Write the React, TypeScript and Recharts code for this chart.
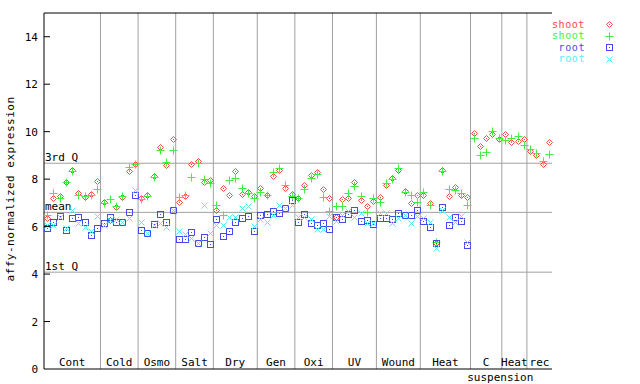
import { ComposedChart, Legend, Line, ReferenceLine, XAxis, YAxis } from "recharts";

const groups = ["Cont", "Cold", "Osmo", "Salt", "Dry", "Gen", "Oxi", "UV", "Wound", "Heat", "C", "Heat", "rec"];
const subLabels = ["", "", "", "", "", "", "", "", "", "", "suspension", "", ""];
const groupSizes = [9, 6, 6, 6, 7, 6, 6, 7, 7, 8, 5, 4, 4];

const yTicks = [0, 2, 4, 6, 8, 10, 12, 14];

const quartiles = [
  { label: "3rd Q", value: 8.67 },
  { label: "mean", value: 6.6 },
  { label: "1st Q", value: 4.08 }
];

// shoot, replicate 1 (red diamonds)
const shootA = [
  6.35, 7.19, 7.3, 7.86, 8.38, 7.4, 7.26, 7.37, 7.92,
  7.05, 6.28, 6.84, 7.26, 8.34, 8.62,
  7.19, 7.33, 8.14, 9.37, 8.59, 9.69,
  7.02, 7.29, 8.62, 8.76, 7.86, 7.95,
  6.71, 7.64, 7.33, 8.34, 7.39, 7.47, 7.3,
  7.64, 7.32, 8.13, 8.38, 7.61, 7.36,
  7.19, 7.75, 8.17, 8.31, 7.58, 7.19,
  6.42, 7.16, 7.19, 7.86, 7.1, 6.87, 7.08,
  7.26, 7.75, 8.03, 8.38, 7.5, 6.98, 7.33,
  7.33, 6.98, 5.3, 8.39, 7.29, 7.66, 7.33, 7.23,
  9.93, 9.4, 9.72, 9.89, 9.69,
  9.89, 9.58, 9.62, 9.68,
  9.19, 9.02, 8.64, 9.55
];

// shoot, replicate 2 (green plus)
const shootB = [
  6.49, 7.4, 7.22, 7.86, 8.34, 7.33, 7.3, 7.33, 7.58,
  6.98, 7.16, 6.87, 7.29, 8.5, 8.64,
  7.16, 7.27, 8.07, 9.23, 8.71, 9.23,
  7.23, 7.33, 8.1, 8.68, 8.0, 7.82,
  6.91, 6.49, 7.96, 8.03, 7.61, 7.4, 7.22,
  7.44, 7.32, 8.31, 8.45, 7.75, 7.3,
  7.19, 7.58, 8.03, 8.23, 7.25, 6.66,
  6.87, 6.87, 7.4, 7.71, 7.29, 6.6, 7.22,
  7.02, 7.85, 8.0, 8.45, 7.44, 7.32, 7.02,
  7.47, 6.91, 5.35, 8.34, 7.57, 7.54, 7.4, 6.91,
  9.72, 9.02, 9.13, 10.03, 9.72,
  9.65, 9.72, 9.82, 9.44,
  9.27, 9.12, 8.77, 9.06
];

// root, replicate 1 (blue squares) - no root samples for the suspension cultures
const rootA = [
  5.92, 6.18, 6.46, 5.85, 6.35, 6.42, 6.18, 5.64, 5.92,
  6.14, 6.42, 6.18, 6.18, 6.6, 7.32,
  5.84, 5.71, 6.09, 6.51, 6.18, 6.68,
  5.47, 5.47, 5.76, 5.3, 5.56, 5.25,
  6.3, 5.6, 5.81, 6.21, 6.35, 6.46, 5.81,
  6.49, 6.51, 6.66, 6.56, 6.77, 7.12,
  6.21, 6.51, 6.14, 6.07, 6.14, 5.9,
  6.42, 6.3, 6.51, 6.7, 6.23, 6.29, 6.12,
  6.35, 6.35, 6.3, 6.56, 6.49, 6.49, 6.72,
  6.23, 5.97, 5.3, 6.84, 6.07, 6.39, 6.24, 5.22
];

// root, replicate 2 (cyan crosses)
const rootB = [
  6.05, 6.07, 6.42, 5.92, 6.7, 6.14, 6.0, 5.81, 6.46,
  6.07, 6.28, 6.32, 6.18, 6.37, 7.53,
  6.21, 5.71, 6.07, 6.14, 6.0, 6.68,
  5.81, 5.67, 5.5, 5.3, 6.91, 5.71,
  6.07, 6.07, 6.42, 6.42, 6.77, 6.87, 6.04,
  6.3, 6.21, 6.49, 6.91, 6.77, 6.91,
  6.42, 6.42, 6.32, 5.9, 5.9, 6.46,
  6.23, 6.49, 6.66, 6.42, 6.56, 6.14, 6.14,
  6.56, 6.56, 6.14, 6.37, 6.49, 6.14, 6.46,
  6.35, 6.18, 5.11, 6.7, 6.39, 6.21, 6.45, 5.37
];

const RED = "#ff4848";
const GREEN = "#40f040";
const BLUE = "#4848f0";
const CYAN = "#50f0f0";
const GRID = "#a0a0a0";
const FONT = "DejaVu Sans Mono";

const rows = shootA.map((v, i) => ({
  idx: i + 1,
  shootA: v,
  shootB: shootB[i],
  rootA: rootA[i] ?? null,
  rootB: rootB[i] ?? null
}));

const boundaries: number[] = [];
const centers: number[] = [];
let start = 0.5;
groupSizes.forEach((n, i) => {
  centers.push(start + n / 2);
  start += n;
  if (i < groupSizes.length - 1) boundaries.push(start);
});

// snap marker centres to the pixel grid so 1px strokes stay sharp
function drawShape(kind: string, color: string, px: number, py: number, key?: any) {
  const cx = Math.round(px) + 0.5;
  const cy = Math.round(py) + 0.5;
  if (kind === "diamond") {
    return (
      <g key={key}>
        <polygon points={`${cx},${cy - 3} ${cx + 3},${cy} ${cx},${cy + 3} ${cx - 3},${cy}`} fill="none" stroke={color} strokeWidth={1} />
        <rect x={cx - 0.5} y={cy - 0.5} width={1} height={1} fill={color} />
      </g>
    );
  }
  if (kind === "plus") {
    return (
      <g key={key} stroke={color} strokeWidth={1}>
        <line x1={cx - 4} x2={cx + 4} y1={cy} y2={cy} />
        <line x1={cx} x2={cx} y1={cy - 4} y2={cy + 4} />
      </g>
    );
  }
  if (kind === "square") {
    return (
      <g key={key}>
        <rect x={cx - 3} y={cy - 3} width={6} height={6} fill="none" stroke={color} strokeWidth={1} />
        <rect x={cx - 0.5} y={cy - 0.5} width={1} height={1} fill={color} />
      </g>
    );
  }
  return (
    <g key={key} stroke={color} strokeWidth={1}>
      <line x1={cx - 3} x2={cx + 3} y1={cy - 3} y2={cy + 3} />
      <line x1={cx - 3} x2={cx + 3} y1={cy + 3} y2={cy - 3} />
    </g>
  );
}

const series = [
  { key: "shootA", name: "shoot", color: RED, shape: "diamond" },
  { key: "shootB", name: "shoot", color: GREEN, shape: "plus" },
  { key: "rootA", name: "root", color: BLUE, shape: "square" },
  { key: "rootB", name: "root", color: CYAN, shape: "cross" }
];

function makeDot(kind: string, color: string) {
  return (props: any) => {
    const { cx, cy, index, value } = props;
    if (value == null || cy == null || isNaN(cy)) return <g key={`e-${index}`} />;
    return drawShape(kind, color, cx, cy, `d-${index}`);
  };
}

function GroupTick(props: any) {
  const { x, y, index } = props;
  return (
    <g fontFamily={FONT} fontSize={11} fill="#000">
      <text x={x} y={y - 3} textAnchor="middle">{groups[index]}</text>
      {subLabels[index] ? (
        <text x={x - 19} y={y + 12} textAnchor="start">{subLabels[index]}</text>
      ) : null}
    </g>
  );
}

function LeftTick(props: any) {
  const { x, y, payload } = props;
  return (
    <g>
      {payload.value > 0 ? <line x1={x} x2={x + 6} y1={y} y2={y} stroke="#000" /> : null}
      <text x={x - 6} y={y + 4} textAnchor="end" fontFamily={FONT} fontSize={11} fill="#000">
        {payload.value}
      </text>
    </g>
  );
}

function RightTick(props: any) {
  const { x, y, payload } = props;
  if (payload.value === 0) return <g />;
  return <line x1={x - 6} x2={x} y1={y} y2={y} stroke="#000" />;
}

function LegendBox() {
  return (
    <svg width={90} height={54} fontFamily={FONT} fontSize={10}>
      {series.map((s, i) => {
        const cy = 8 + i * 11.6;
        return (
          <g key={i}>
            <text x={40} y={cy + 3.5} textAnchor="end" fill={s.color} letterSpacing={0.6}>{s.name}</text>
            {drawShape(s.shape, s.color, 64, cy)}
          </g>
        );
      })}
    </svg>
  );
}

export default function App() {
  return (
    <div style={{ position: "absolute", left: 0, top: 0, background: "#fff" }}>
      <ComposedChart width={640} height={384} data={rows} margin={{ top: 13, right: 88, bottom: 0, left: 0 }}>
        <XAxis
          type="number"
          dataKey="idx"
          domain={[0.5, 81.5]}
          ticks={centers}
          interval={0}
          tick={<GroupTick />}
          tickLine={false}
          tickSize={0}
          tickMargin={0}
          height={15}
          axisLine={{ stroke: "#000" }}
        />
        <YAxis
          domain={[0, 15]}
          ticks={yTicks}
          interval={0}
          width={44}
          tick={<LeftTick />}
          tickLine={false}
          tickSize={0}
          tickMargin={0}
          axisLine={{ stroke: "#000" }}
          label={() => (
            <text transform="translate(14,189) rotate(-90)" textAnchor="middle" fontFamily={FONT} fontSize={11} letterSpacing={0.5} fill="#000">
              affy-normalized expression
            </text>
          )}
        />
        <YAxis
          yAxisId="right"
          orientation="right"
          domain={[0, 15]}
          ticks={yTicks}
          interval={0}
          width={0}
          tick={<RightTick />}
          tickLine={false}
          tickSize={0}
          tickMargin={0}
          axisLine={{ stroke: "#000" }}
        />
        {boundaries.map((b) => (
          <ReferenceLine key={`b-${b}`} x={b} stroke={GRID} strokeWidth={1} />
        ))}
        {quartiles.map((q) => (
          <ReferenceLine
            key={q.label}
            y={q.value}
            stroke={GRID}
            strokeWidth={1}
            label={(p: any) => (
              <text x={p.viewBox.x + 1} y={p.viewBox.y - 2} fontFamily={FONT} fontSize={11} fill="#000">
                {q.label}
              </text>
            )}
          />
        ))}
        <ReferenceLine y={15} stroke="#000" strokeWidth={1} />
        <Legend
          layout="horizontal"
          verticalAlign="middle"
          align="center"
          content={() => <LegendBox />}
          wrapperStyle={{ position: "absolute", left: 545, top: 16, width: 90, height: 54 }}
        />
        {series.map((s) => (
          <Line
            key={s.key}
            dataKey={s.key}
            name={s.name}
            stroke="none"
            dot={makeDot(s.shape, s.color)}
            activeDot={false}
            legendType="none"
            isAnimationActive={false}
          />
        ))}
      </ComposedChart>
    </div>
  );
}
